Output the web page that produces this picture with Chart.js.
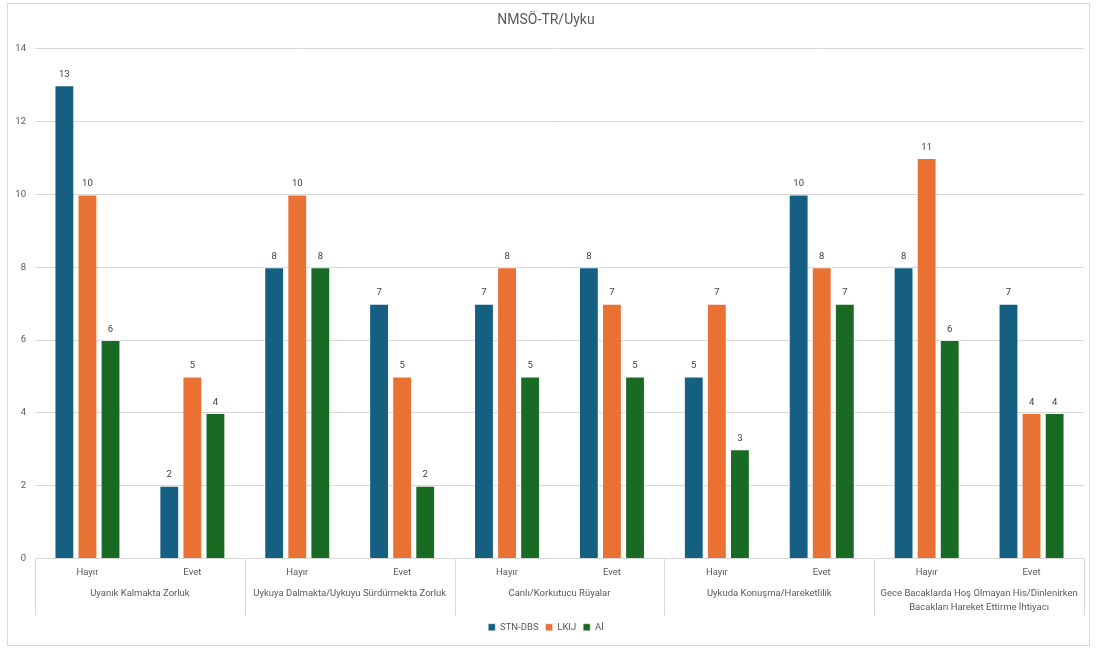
<!DOCTYPE html>
<html>
<head>
<meta charset="utf-8">
<script src="https://cdn.jsdelivr.net/npm/chart.js@4/dist/chart.umd.min.js"></script>
<style>
    html, body { margin: 0; padding: 0; background: #fff; }
    #wrap {
        position: absolute; left: 7px; top: 3px;
        width: 1081px; height: 641px;
        border: 1px solid #d9d9d9;
    }
</style>
</head>
<body>
<div id="wrap"><canvas id="chart"></canvas></div>
<script>
// Chart data
const subLabels = ['Hayır', 'Evet', 'Hayır', 'Evet', 'Hayır', 'Evet', 'Hayır', 'Evet', 'Hayır', 'Evet'];
const groupLabels = [
    'Uyanık Kalmakta Zorluk',
    'Uykuya Dalmakta/Uykuyu Sürdürmekta Zorluk',
    'Canlı/Korkutucu Rüyalar',
    'Uykuda Konuşma/Hareketlilik',
    ['Gece Bacaklarda Hoş Olmayan His/Dinlenirken', 'Bacakları Hareket Ettirme İhtiyacı']
];
const stnDbs = [13, 2, 8, 7, 7, 8, 5, 10, 8, 7];
const lkij = [10, 5, 10, 5, 8, 7, 7, 8, 11, 4];
const ai = [6, 4, 8, 2, 5, 5, 3, 7, 6, 4];
const yTicks = [0, 2, 4, 6, 8, 10, 12, 14];

const FONT = 'Roboto, sans-serif';
const TEXT = '#595959';

// Values above each bar
const valueLabels = {
    id: 'valueLabels',
    afterDatasetsDraw(chart) {
        const ctx = chart.ctx;
        ctx.save();
        ctx.font = '9.5px ' + FONT;
        ctx.fillStyle = '#404040';
        ctx.textAlign = 'center';
        ctx.textBaseline = 'bottom';
        chart.data.datasets.forEach((ds, i) => {
            chart.getDatasetMeta(i).data.forEach((bar, j) => {
                ctx.fillText(ds.data[j], bar.x, bar.y - 6);
            });
        });
        ctx.restore();
    }
};

// Vertical separators between category groups
const groupLines = {
    id: 'groupLines',
    afterDraw(chart) {
        const x2 = chart.scales.x2;
        const ctx = chart.ctx;
        const step = x2.width / groupLabels.length;
        ctx.save();
        ctx.strokeStyle = '#d9d9d9';
        ctx.lineWidth = 1;
        for (let i = 0; i <= groupLabels.length; i++) {
            const px = Math.round(x2.left + i * step) + 0.5;
            ctx.beginPath();
            ctx.moveTo(px, chart.chartArea.bottom);
            ctx.lineTo(px, x2.bottom);
            ctx.stroke();
        }
        ctx.restore();
    }
};

new Chart(document.getElementById('chart'), {
    type: 'bar',
    data: {
        labels: subLabels,
        datasets: [
            { label: 'STN-DBS', data: stnDbs, backgroundColor: '#156082' },
            { label: 'LKIJ', data: lkij, backgroundColor: '#e97132' },
            { label: 'Aİ', data: ai, backgroundColor: '#196b24' }
        ]
    },
    options: {
        responsive: true,
        maintainAspectRatio: false,
        animation: false,
        datasets: {
            bar: {
                categoryPercentage: 0.66,
                barPercentage: 0.86,
                borderWidth: 1,
                borderColor: 'rgba(255,255,255,0.4)'
            }
        },
        layout: { padding: { left: 0, right: 5, top: 0, bottom: 3 } },
        plugins: {
            title: {
                display: true,
                text: 'NMSÖ-TR/Uyku',
                color: TEXT,
                font: { family: FONT, size: 14, weight: 'normal' },
                padding: { top: 8, bottom: 20 }
            },
            legend: {
                position: 'bottom',
                labels: {
                    color: TEXT,
                    boxWidth: 7,
                    boxHeight: 7,
                    padding: 7,
                    font: { family: FONT, size: 9.5 }
                }
            },
            tooltip: { enabled: false }
        },
        scales: {
            x: {
                grid: { display: false, drawTicks: false, tickLength: 0 },
                border: { display: true, color: '#d9d9d9' },
                ticks: { color: TEXT, padding: 8, font: { family: FONT, size: 9.5 }, maxRotation: 0 }
            },
            x2: {
                type: 'category',
                labels: groupLabels,
                position: 'bottom',
                grid: { display: false, drawTicks: false, tickLength: 0 },
                border: { display: false },
                ticks: {
                    color: TEXT, padding: 1, maxRotation: 0, autoSkip: false,
                    font: { family: FONT, size: 9.5, lineHeight: 1.45 }
                }
            },
            y: {
                min: yTicks[0],
                max: yTicks[yTicks.length - 1],
                afterBuildTicks: axis => { axis.ticks = yTicks.map(v => ({ value: v })); },
                afterFit: axis => { axis.width = 27; },
                grid: { color: '#d9d9d9', drawTicks: false },
                border: { display: false },
                ticks: { color: TEXT, padding: 9, font: { family: FONT, size: 9.5 } }
            }
        }
    },
    plugins: [valueLabels, groupLines]
});
</script>
</body>
</html>
